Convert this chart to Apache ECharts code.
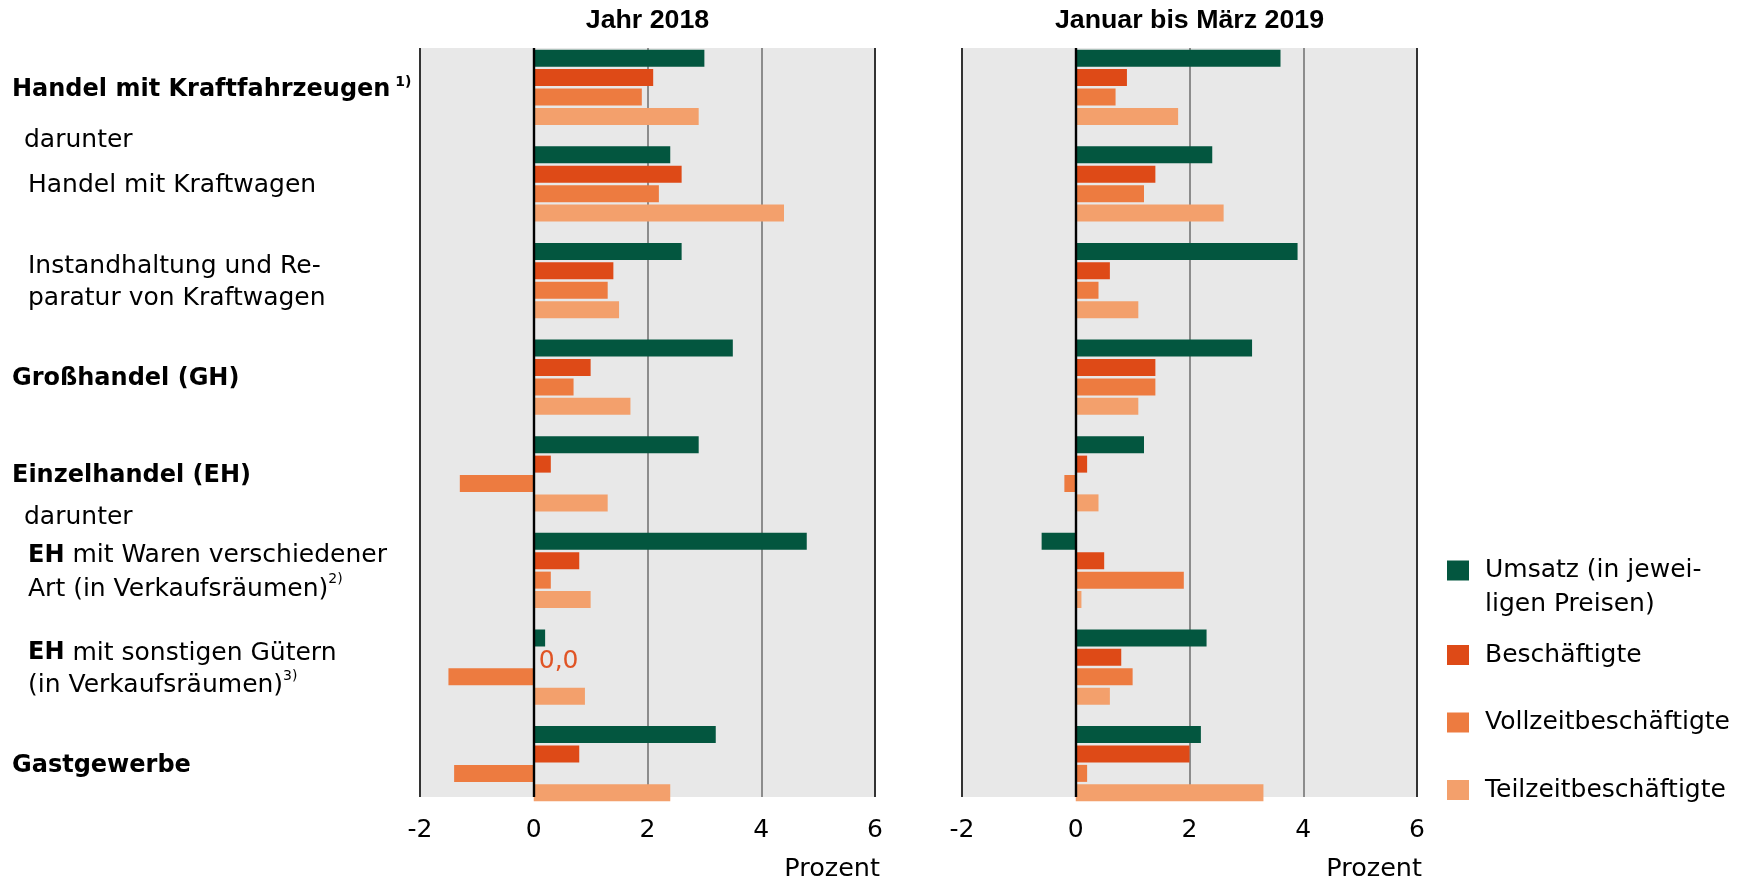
<!DOCTYPE html>
<html><head><meta charset="utf-8">
<script src="https://cdn.jsdelivr.net/npm/echarts@6/dist/echarts.min.js"></script>
<style>html,body{margin:0;padding:0;background:#fff}#c{width:1746px;height:882px}</style>
</head><body><div id="c"></div>
<script>
// ---------- data ----------
const categories = [
  'Handel mit Kraftfahrzeugen',
  'Handel mit Kraftwagen',
  'Instandhaltung und Reparatur von Kraftwagen',
  'Großhandel (GH)',
  'Einzelhandel (EH)',
  'EH mit Waren verschiedener Art (in Verkaufsräumen)',
  'EH mit sonstigen Gütern (in Verkaufsräumen)',
  'Gastgewerbe'
];
const categoryLabels = [
  '{b|Handel mit Kraftfahrzeugen}{sb| 1)}',
  '{i|Handel mit Kraftwagen}',
  '{i|Instandhaltung und Re-}\n{i|paratur von Kraftwagen}',
  '{b|Großhandel (GH)}',
  '{b|Einzelhandel (EH)}',
  '{ib2|EH}{n2| mit Waren verschiedener}\n{i2|Art (in Verkaufsräumen)}{s2|2)}',
  '{ib|EH}{n| mit sonstigen Gütern}\n{i|(in Verkaufsräumen)}{s|3)}',
  '{b|Gastgewerbe}'
];
const subLabel = 'darunter';
const seriesNames = ['Umsatz (in jeweiligen Preisen)', 'Beschäftigte', 'Vollzeitbeschäftigte', 'Teilzeitbeschäftigte'];
const legendLabels = ['{e| }\n{a|Umsatz (in jewei-}\n{a|ligen Preisen)}', 'Beschäftigte', 'Vollzeitbeschäftigte', 'Teilzeitbeschäftigte'];
const panelTitles = ['Jahr 2018', 'Januar bis März 2019'];
const axisUnit = 'Prozent';
const xMin = -2, xMax = 6, xInterval = 2;

const umsatz2018   = [3.0, 2.4, 2.6, 3.5, 2.9, 4.8, 0.2, 3.2];
const besch2018    = [2.1, 2.6, 1.4, 1.0, 0.3, 0.8, 0.0, 0.8];
const vollzeit2018 = [1.9, 2.2, 1.3, 0.7, -1.3, 0.3, -1.5, -1.4];
const teilzeit2018 = [2.9, 4.4, 1.5, 1.7, 1.3, 1.0, 0.9, 2.4];

const umsatz2019   = [3.6, 2.4, 3.9, 3.1, 1.2, -0.6, 2.3, 2.2];
const besch2019    = [0.9, 1.4, 0.6, 1.4, 0.2, 0.5, 0.8, 2.0];
const vollzeit2019 = [0.7, 1.2, 0.4, 1.4, -0.2, 1.9, 1.0, 0.2];
const teilzeit2019 = [1.8, 2.6, 1.1, 1.1, 0.4, 0.1, 0.6, 3.3];

// ---------- styling ----------
const FONT = '"DejaVu Sans", "Liberation Sans", Arial, sans-serif';
const TFONT = '"Liberation Sans", Arial, sans-serif';
const colors = ['#03563f', '#de4a17', '#ed7b40', '#f3a06c'];
const panels = [
  { left: 420, data: [umsatz2018, besch2018, vollzeit2018, teilzeit2018] },
  { left: 962, data: [umsatz2019, besch2019, vollzeit2019, teilzeit2019] }
];
const PW = 455;            // panel width
const BG_TOP = 48, BG_H = 755;
const D_TOP = 39, D_H = 773;
const LS = 25, LB = 24, SUP = 14;

const grids = [], xAxes = [], yAxes = [], series = [];
panels.forEach((p, pi) => {
  const bg = grids.length;
  grids.push({ left: p.left, top: BG_TOP, width: PW, height: BG_H, show: true,
               backgroundColor: '#e8e8e8', borderWidth: 0, containLabel: false });
  const dg = grids.length;
  grids.push({ left: p.left, top: D_TOP, width: PW, height: D_H, show: false, containLabel: false });

  // background axis: labels + grid lines
  xAxes.push({ type: 'value', gridIndex: bg, min: xMin, max: xMax, interval: xInterval, position: 'bottom',
    axisLine: { show: false }, axisTick: { show: false },
    axisLabel: { fontSize: 25, color: '#000', fontFamily: FONT, margin: 21 },
    splitLine: { show: true, lineStyle: { width: 2, color: ['#333333', 'rgba(0,0,0,0)', '#8c8c8c', '#8c8c8c', '#333333'] } },
    name: axisUnit, nameLocation: 'end', nameGap: 5,
    nameTextStyle: { fontSize: 25.5, color: '#000', fontFamily: FONT, align: 'right', verticalAlign: 'top', padding: [59, 0, 0, 0] }
  });
  // zero line on top of bars
  xAxes.push({ type: 'value', gridIndex: bg, min: xMin, max: xMax, interval: xInterval, position: 'top', z: 6,
    axisLine: { show: false }, axisTick: { show: false }, axisLabel: { show: false },
    splitLine: { show: true, lineStyle: { width: 2.4, color: ['rgba(0,0,0,0)', '#000', 'rgba(0,0,0,0)', 'rgba(0,0,0,0)', 'rgba(0,0,0,0)'] } }
  });
  yAxes.push({ type: 'value', gridIndex: bg, show: false });

  const dx = xAxes.length;
  xAxes.push({ type: 'value', gridIndex: dg, min: xMin, max: xMax, interval: xInterval, show: false });
  const dy = yAxes.length;
  yAxes.push({ type: 'category', gridIndex: dg, inverse: true, data: categories,
    axisLine: { show: false }, axisTick: { show: false }, splitLine: { show: false },
    axisLabel: pi === 0 ? {
      show: true, interval: 0, align: 'left', margin: p.left - 12, color: '#000', fontFamily: FONT,
      padding: [4, 0, 0, 0],
      formatter: (v, i) => categoryLabels[i],
      rich: {
        b:   { fontSize: LB, fontWeight: 'bold', fontFamily: FONT, color: '#000', lineHeight: 28 },
        sb:  { fontSize: SUP, fontWeight: 'bold', fontFamily: FONT, color: '#000', verticalAlign: 'top', lineHeight: 28 },
        i:   { fontSize: LS, fontFamily: FONT, color: '#000', padding: [0, 0, 0, 16], lineHeight: 32 },
        ib:  { fontSize: LB, fontWeight: 'bold', fontFamily: FONT, color: '#000', padding: [0, 0, 0, 16], lineHeight: 32 },
        n:   { fontSize: LS, fontFamily: FONT, color: '#000', lineHeight: 32 },
        s:   { fontSize: SUP, fontFamily: FONT, color: '#000', verticalAlign: 'top', lineHeight: 28 },
        i2:  { fontSize: LS, fontFamily: FONT, color: '#000', padding: [0, 0, 0, 16], lineHeight: 34 },
        ib2: { fontSize: LB, fontWeight: 'bold', fontFamily: FONT, color: '#000', padding: [0, 0, 0, 16], lineHeight: 34 },
        n2:  { fontSize: LS, fontFamily: FONT, color: '#000', lineHeight: 34 },
        s2:  { fontSize: SUP, fontFamily: FONT, color: '#000', verticalAlign: 'top', lineHeight: 30 }
      }
    } : { show: false }
  });

  p.data.forEach((vals, k) => {
    series.push({
      type: 'bar', name: seriesNames[k], xAxisIndex: dx, yAxisIndex: dy,
      barWidth: 17, barGap: '14%',
      itemStyle: { color: colors[k] },
      data: vals.map(v => (k === 1 && v === 0) ? {
        value: v,
        label: { show: true, position: 'right', distance: 5, offset: [0, 4], formatter: '0,0',
                 color: '#e05424', fontSize: LS, fontFamily: FONT }
      } : v)
    });
  });
});

const chart = echarts.init(document.getElementById('c'), null, { renderer: 'canvas' });
chart.setOption({
  animation: false,
  grid: grids, xAxis: xAxes, yAxis: yAxes, series: series,
  legend: [
    { data: [seriesNames[0]], left: 1447, top: 524, padding: 0, orient: 'vertical', icon: 'rect',
      itemWidth: 22, itemHeight: 20, selectedMode: false,
      formatter: n => legendLabels[seriesNames.indexOf(n)],
      textStyle: { fontSize: 25, color: '#000', fontFamily: FONT,
        rich: {
          e: { fontSize: 25, lineHeight: 34, fontFamily: FONT },
          a: { fontSize: 25, lineHeight: 34, color: '#000', fontFamily: FONT, padding: [0, 0, 0, 11] }
        } } },
    { data: seriesNames.slice(1), left: 1447, top: 640, padding: 0, orient: 'vertical', icon: 'rect',
      itemWidth: 22, itemHeight: 20, itemGap: 37.5, selectedMode: false,
      formatter: n => legendLabels[seriesNames.indexOf(n)],
      textStyle: { fontSize: 25, lineHeight: 30, color: '#000', fontFamily: FONT, padding: [0, 0, 0, 11] } }
  ]
});

// titles and "darunter" sub-labels, positioned via the axes
const yc = i => chart.convertToPixel({ yAxisIndex: 1 }, i);
const gfx = [];
panels.forEach((p, pi) => {
  gfx.push({ type: 'text', x: p.left + PW / 2, y: 21, scaleX: 1.07,
    style: { text: panelTitles[pi], font: 'bold 25px ' + TFONT, fill: '#000', align: 'center', verticalAlign: 'middle' } });
});
gfx.push({ type: 'text', x: 24, y: (yc(0) + yc(1)) / 2 + 5,
  style: { text: subLabel, font: LS + 'px ' + FONT, fill: '#000', align: 'left', verticalAlign: 'middle' } });
gfx.push({ type: 'text', x: 24, y: (yc(4) + yc(5)) / 2 - 5,
  style: { text: subLabel, font: LS + 'px ' + FONT, fill: '#000', align: 'left', verticalAlign: 'middle' } });
chart.setOption({ graphic: gfx });
</script></body></html>
